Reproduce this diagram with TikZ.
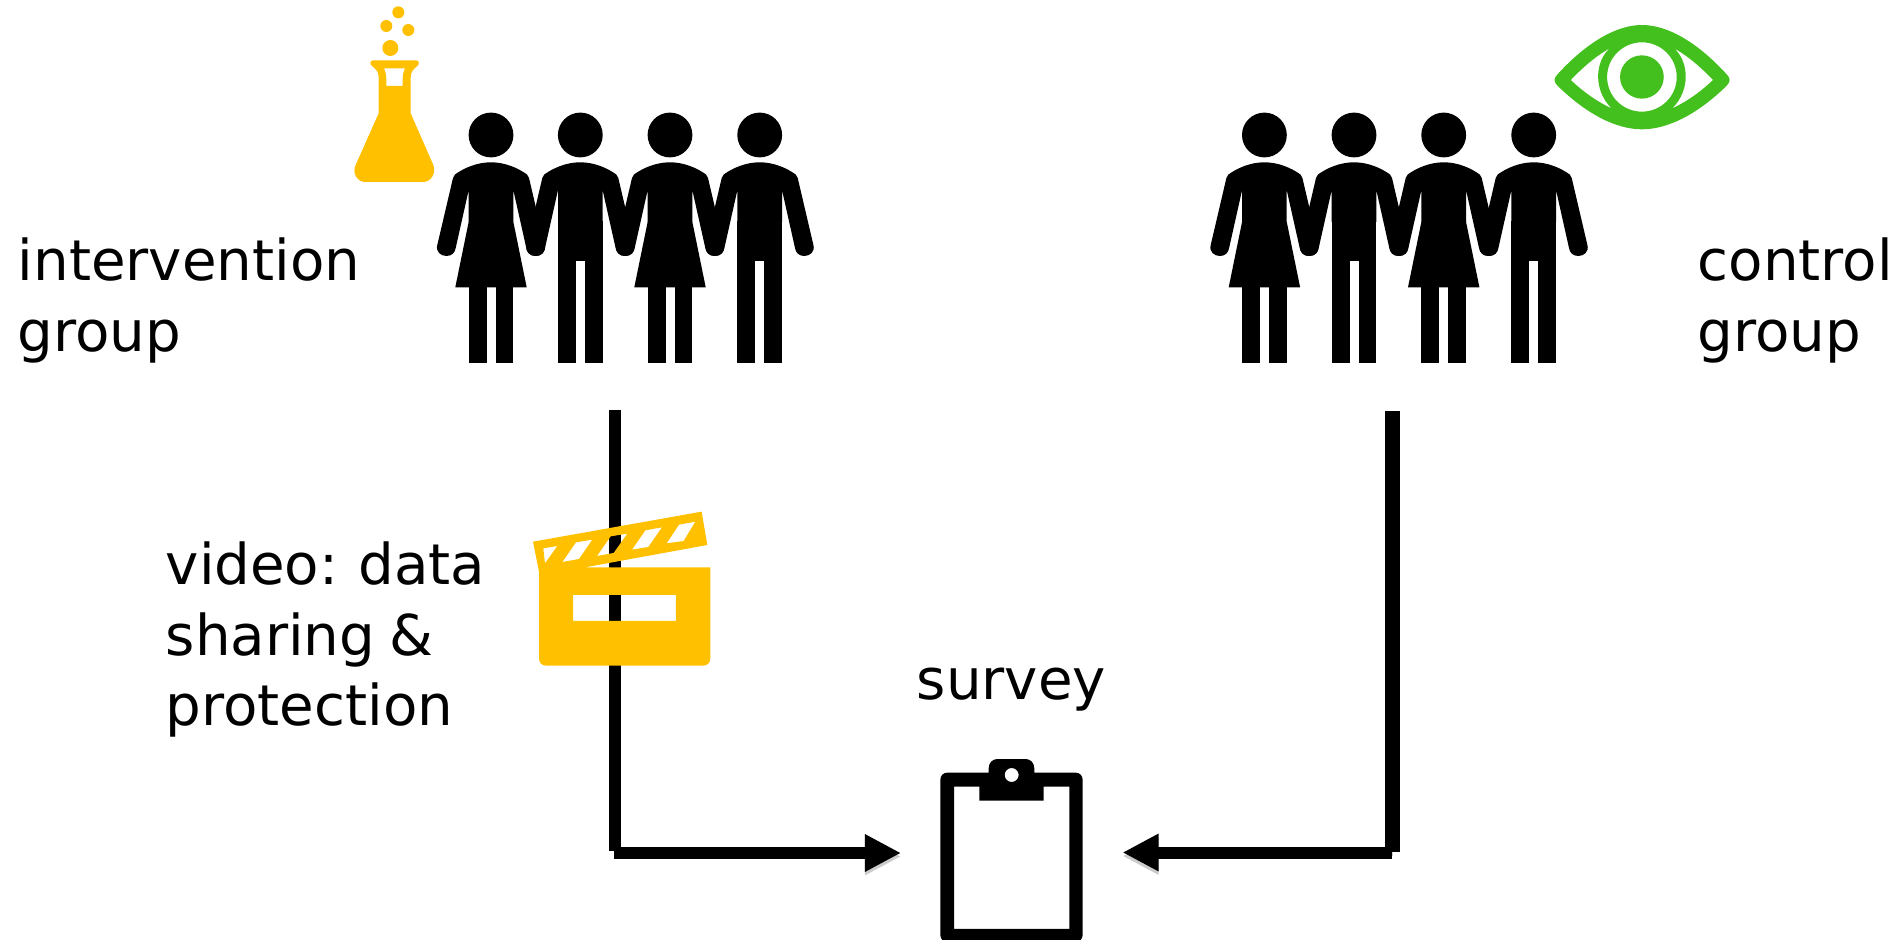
\documentclass[tikz,border=0pt]{standalone}
\usepackage{fontspec}
\setmainfont[WordSpace=0.8]{DejaVu Sans}
\usetikzlibrary{arrows.meta}
\definecolor{gold}{HTML}{FFC000}
\definecolor{eyegreen}{HTML}{44C01E}
\tikzset{
    lbl/.style={font=\fontsize{16}{20}\selectfont,align=left,inner sep=0pt,anchor=north west},
    seg/.style={line width=0.12cm,preaction={draw,black,opacity=0.2,transform canvas={yshift=-0.035cm}}},
    flow/.style={seg,-{Triangle[length=0.36cm,width=0.35cm]}},
    torso/.pic={
        \fill (0,135) circle (22.4);
        \fill (0,162.3) .. controls (-14,162.3) and (-27,168) .. (-36,174.5)
            .. controls (-37.5,175.5) and (-37.5,177) .. (-38,178) -- (-53.7,245)
            .. controls (-55.5,252) and (-50,256) .. (-44.5,256)
            .. controls (-39,256) and (-36,252.5) .. (-35.3,248) -- (-22.3,190) -- (-22.3,222)
            -- (22.3,222) -- (22.3,190) -- (35.3,248)
            .. controls (36,252.5) and (39,256) .. (44.5,256)
            .. controls (50,256) and (55.5,252) .. (53.7,245) -- (38,178)
            .. controls (37.5,177) and (37.5,175.5) .. (36,174.5)
            .. controls (27,168) and (14,162.3) .. (0,162.3) -- cycle;
    },
    female/.pic={
        \pic {torso};
        \fill (-22.3,221.7) -- (-35.7,287.3) -- (35.7,287.3) -- (22.3,221.7) -- cycle;
        \fill (-22.3,287) rectangle (-4.3,363.3);
        \fill (4.7,287) rectangle (22.3,363.3);
    },
    male/.pic={
        \pic {torso};
        \fill (-22.3,221) rectangle (22.3,260.6);
        \fill (-22.3,260) rectangle (-4.3,363.3);
        \fill (4.7,260) rectangle (22.3,363.3);
    },
}

\begin{document}
\begin{tikzpicture}[x=0.01cm,y=-0.01cm]
    \useasboundingbox (0,0) rectangle (1903,940);
    \coordinate (intout) at (614.5,410);
    \coordinate (intdown) at (614.5,850.7);
    \coordinate (intturn) at (614.3,853);
    \coordinate (surveyl) at (901,853);
    \coordinate (ctrlout) at (1392.5,411);
    \coordinate (ctrldown) at (1392.5,852);
    \coordinate (ctrlturn) at (1392.3,852.5);
    \coordinate (surveyr) at (1122.5,852.5);

    \draw[seg] (intout) -- (intdown);
    \draw[flow] (intturn) -- (surveyl);
    \draw[seg,line width=0.145cm] (ctrlout) -- (ctrldown);
    \draw[flow] (ctrlturn) -- (surveyr);

    \pic at (491,0) {female};
    \pic at (580.3,0) {male};
    \pic at (670,0) {female};
    \pic at (759.7,0) {male};

    \pic at (1264.4,0) {female};
    \pic at (1354,0) {male};
    \pic at (1443.7,0) {female};
    \pic at (1533.7,0) {male};

    \node[lbl] (intlabel) at (17,237.4) {intervention\\group};
    \node[lbl] (ctrllabel) at (1697,237.4) {control\\group};
    \node[lbl] (videolabel) at (165,541.5) {video: data\\sharing \&\\protection};
    \node[lbl] (surveylabel) at (916,667) {survey};

    % flask
    \begin{scope}[shift={(340,0)},scale=0.3333,fill=gold]
        \fill (175,37) circle (18);
        \fill (139,78) circle (18);
        \fill (205,90) circle (18);
        \fill (151,144) circle (24);
        \fill[even odd rule] (100,181) -- (228,181) .. controls (238,181) and (239,192) .. (232,198)
            .. controls (220,208) and (212,215) .. (212,232) -- (212,340) -- (280,495)
            .. controls (290,520) and (272,546) .. (250,546) -- (75,546)
            .. controls (53,546) and (35,520) .. (47,495) -- (116,340) -- (116,232)
            .. controls (116,215) and (108,208) .. (96,198)
            .. controls (88,192) and (90,181) .. (100,181) -- cycle
            (132,205) -- (195,205) .. controls (190,218) and (188,225) .. (188,235) -- (188,258) -- (139,258) -- (139,235)
            .. controls (139,225) and (137,218) .. (132,205) -- cycle;
    \end{scope}

    % eye
    \begin{scope}[shift={(1180,0)},xscale=0.3704,yscale=0.3333]
        \fill[eyegreen,even odd rule] (1020,222) .. controls (1100,125) and (1180,75) .. (1247,75)
            .. controls (1315,75) and (1395,125) .. (1475,222)
            .. controls (1487,235) and (1487,245) .. (1475,258)
            .. controls (1395,345) and (1315,388) .. (1247,388)
            .. controls (1180,388) and (1100,345) .. (1020,258)
            .. controls (1008,245) and (1008,235) .. (1020,222) -- cycle
            (1055,240) .. controls (1085,205) and (1120,170) .. (1160,145)
            .. controls (1120,185) and (1115,270) .. (1165,325)
            .. controls (1125,305) and (1085,272) .. (1055,240) -- cycle
            (1439,240) .. controls (1409,205) and (1374,170) .. (1334,145)
            .. controls (1374,185) and (1379,270) .. (1329,325)
            .. controls (1369,305) and (1409,272) .. (1439,240) -- cycle
            (1247,231) ellipse [x radius=94,y radius=104];
        \fill[eyegreen] (1247,231) ellipse [x radius=59,y radius=65];
    \end{scope}

    % clapperboard
    \begin{scope}[shift={(500,490)},scale=0.3333]
        \fill[gold,even odd rule] (99,155) -- (605,65) -- (622,165) -- (255,232) -- (631,232) -- (631,505)
            .. controls (631,518) and (622,527) .. (610,527) -- (138,527)
            .. controls (126,527) and (117,518) .. (117,505) -- (117,245) -- cycle
            (219,315) rectangle (528,393)
            (130,175) -- (172,168) -- (135,220) -- cycle
            (228,157) -- (277,149) -- (237,207) -- (187,216) -- cycle
            (332,139) -- (382,131) -- (341,189) -- (291,198) -- cycle
            (436,121) -- (486,112) -- (445,171) -- (396,179) -- cycle
            (537,104) -- (586,95) -- (551,153) -- (500,160) -- cycle;
    \end{scope}

    % clipboard
    \begin{scope}[shift={(850,740)},scale=0.3333]
        \fill[even odd rule] (292,98) -- (416,98) -- (416,85) .. controls (416,68) and (428,57) .. (442,57)
            -- (527,57) .. controls (541,57) and (553,68) .. (553,85) -- (553,98) -- (677,98)
            .. controls (689,98) and (698,107) .. (698,119) -- (698,585)
            .. controls (698,597) and (689,606) .. (677,606) -- (292,606)
            .. controls (280,606) and (271,597) .. (271,585) -- (271,119)
            .. controls (271,107) and (280,98) .. (292,98) -- cycle
            (312,140) -- (388,140) -- (388,182) -- (581,182) -- (581,140) -- (658,140) -- (658,567) -- (312,567) -- cycle
            (485,105) circle (21);
    \end{scope}
\end{tikzpicture}
\end{document}
